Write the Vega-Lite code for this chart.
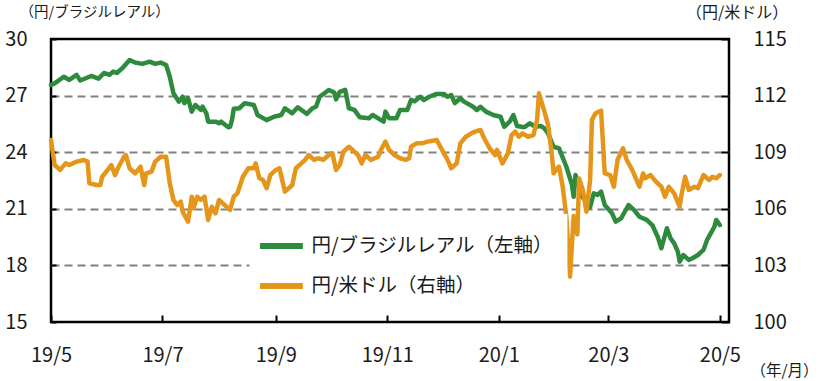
{
  "$schema": "https://vega.github.io/schema/vega-lite/v6.json",
  "width": 678,
  "height": 283,
  "autosize": {"type": "none"},
  "padding": {"left": 51, "top": 39, "right": 90, "bottom": 59},
  "background": "white",
  "config": {
    "font": "Noto Sans CJK JP",
    "view": {"stroke": "black", "strokeWidth": 2.5},
    "axis": {"labelFont": "Noto Sans CJK JP", "titleFont": "Noto Sans CJK JP", "labelColor": "#1a1a1a", "titleColor": "#1a1a1a", "titleFontWeight": "normal"}
  },
  "datasets": {
    "brl": [
      {"d": "2019-05-01", "v": 27.56}, {"d": "2019-05-03", "v": 27.65}, {"d": "2019-05-08", "v": 28.0}, {"d": "2019-05-11", "v": 27.83},
      {"d": "2019-05-15", "v": 28.1}, {"d": "2019-05-17", "v": 27.8}, {"d": "2019-05-23", "v": 28.04}, {"d": "2019-05-27", "v": 27.9},
      {"d": "2019-05-30", "v": 28.2}, {"d": "2019-06-02", "v": 28.1}, {"d": "2019-06-04", "v": 28.27}, {"d": "2019-06-06", "v": 28.2},
      {"d": "2019-06-09", "v": 28.45}, {"d": "2019-06-13", "v": 28.89}, {"d": "2019-06-16", "v": 28.75}, {"d": "2019-06-20", "v": 28.68},
      {"d": "2019-06-24", "v": 28.8}, {"d": "2019-06-27", "v": 28.68}, {"d": "2019-06-30", "v": 28.75}, {"d": "2019-07-03", "v": 28.62},
      {"d": "2019-07-05", "v": 28.0}, {"d": "2019-07-07", "v": 27.12}, {"d": "2019-07-10", "v": 26.68}, {"d": "2019-07-12", "v": 26.94},
      {"d": "2019-07-13", "v": 26.6}, {"d": "2019-07-15", "v": 26.86}, {"d": "2019-07-17", "v": 26.15}, {"d": "2019-07-19", "v": 26.5},
      {"d": "2019-07-22", "v": 26.24}, {"d": "2019-07-23", "v": 26.41}, {"d": "2019-07-25", "v": 26.06}, {"d": "2019-07-26", "v": 25.62},
      {"d": "2019-07-30", "v": 25.62}, {"d": "2019-08-01", "v": 25.53}, {"d": "2019-08-02", "v": 25.62}, {"d": "2019-08-06", "v": 25.32},
      {"d": "2019-08-07", "v": 25.35}, {"d": "2019-08-08", "v": 25.7}, {"d": "2019-08-09", "v": 26.3}, {"d": "2019-08-12", "v": 26.33},
      {"d": "2019-08-15", "v": 26.6}, {"d": "2019-08-20", "v": 26.5}, {"d": "2019-08-22", "v": 25.97}, {"d": "2019-08-27", "v": 25.7},
      {"d": "2019-08-31", "v": 25.88}, {"d": "2019-09-04", "v": 25.97}, {"d": "2019-09-06", "v": 26.33}, {"d": "2019-09-10", "v": 26.06},
      {"d": "2019-09-13", "v": 26.38}, {"d": "2019-09-18", "v": 26.03}, {"d": "2019-09-21", "v": 26.33}, {"d": "2019-09-23", "v": 26.41},
      {"d": "2019-09-25", "v": 26.94}, {"d": "2019-09-30", "v": 27.3}, {"d": "2019-10-03", "v": 27.16}, {"d": "2019-10-04", "v": 26.8},
      {"d": "2019-10-06", "v": 27.2}, {"d": "2019-10-09", "v": 27.3}, {"d": "2019-10-11", "v": 26.33}, {"d": "2019-10-14", "v": 26.24},
      {"d": "2019-10-17", "v": 25.85}, {"d": "2019-10-22", "v": 25.8}, {"d": "2019-10-24", "v": 25.97}, {"d": "2019-10-30", "v": 25.62},
      {"d": "2019-10-31", "v": 26.15}, {"d": "2019-11-02", "v": 25.8}, {"d": "2019-11-06", "v": 25.8}, {"d": "2019-11-08", "v": 26.24},
      {"d": "2019-11-12", "v": 26.24}, {"d": "2019-11-14", "v": 26.77}, {"d": "2019-11-16", "v": 26.7}, {"d": "2019-11-19", "v": 26.94},
      {"d": "2019-11-21", "v": 26.77}, {"d": "2019-11-24", "v": 26.94}, {"d": "2019-11-28", "v": 27.09}, {"d": "2019-12-02", "v": 27.09},
      {"d": "2019-12-04", "v": 26.94}, {"d": "2019-12-06", "v": 27.03}, {"d": "2019-12-08", "v": 26.6}, {"d": "2019-12-11", "v": 26.86},
      {"d": "2019-12-13", "v": 26.68}, {"d": "2019-12-18", "v": 26.41}, {"d": "2019-12-20", "v": 26.24}, {"d": "2019-12-22", "v": 26.41},
      {"d": "2019-12-25", "v": 26.15}, {"d": "2019-12-29", "v": 25.97}, {"d": "2020-01-02", "v": 25.88}, {"d": "2020-01-04", "v": 25.35},
      {"d": "2020-01-07", "v": 25.62}, {"d": "2020-01-09", "v": 25.97}, {"d": "2020-01-11", "v": 25.39}, {"d": "2020-01-15", "v": 25.32},
      {"d": "2020-01-18", "v": 25.53}, {"d": "2020-01-21", "v": 25.35}, {"d": "2020-01-24", "v": 25.39}, {"d": "2020-01-26", "v": 25.26},
      {"d": "2020-01-28", "v": 25.0}, {"d": "2020-01-31", "v": 24.29}, {"d": "2020-02-03", "v": 24.2}, {"d": "2020-02-07", "v": 23.23},
      {"d": "2020-02-10", "v": 22.3}, {"d": "2020-02-11", "v": 21.64}, {"d": "2020-02-12", "v": 22.79}, {"d": "2020-02-14", "v": 22.17},
      {"d": "2020-02-16", "v": 21.6}, {"d": "2020-02-20", "v": 21.1}, {"d": "2020-02-22", "v": 21.82}, {"d": "2020-02-24", "v": 21.73},
      {"d": "2020-02-26", "v": 21.91}, {"d": "2020-02-28", "v": 21.2}, {"d": "2020-03-03", "v": 20.76}, {"d": "2020-03-05", "v": 20.32},
      {"d": "2020-03-08", "v": 20.5}, {"d": "2020-03-12", "v": 21.2}, {"d": "2020-03-15", "v": 20.94}, {"d": "2020-03-18", "v": 20.58},
      {"d": "2020-03-22", "v": 20.41}, {"d": "2020-03-25", "v": 20.14}, {"d": "2020-03-28", "v": 19.52}, {"d": "2020-03-30", "v": 18.91},
      {"d": "2020-04-02", "v": 19.97}, {"d": "2020-04-04", "v": 19.44}, {"d": "2020-04-06", "v": 19.17}, {"d": "2020-04-08", "v": 18.73},
      {"d": "2020-04-09", "v": 18.2}, {"d": "2020-04-11", "v": 18.55}, {"d": "2020-04-14", "v": 18.29}, {"d": "2020-04-16", "v": 18.38},
      {"d": "2020-04-19", "v": 18.55}, {"d": "2020-04-22", "v": 18.82}, {"d": "2020-04-24", "v": 19.35}, {"d": "2020-04-26", "v": 19.7},
      {"d": "2020-04-28", "v": 20.05}, {"d": "2020-04-29", "v": 20.41}, {"d": "2020-05-01", "v": 20.14}
    ],
    "usd": [
      {"d": "2019-05-01", "v": 109.65}, {"d": "2019-05-03", "v": 108.32}, {"d": "2019-05-06", "v": 108.06}, {"d": "2019-05-09", "v": 108.41},
      {"d": "2019-05-11", "v": 108.32}, {"d": "2019-05-15", "v": 108.5}, {"d": "2019-05-19", "v": 108.59}, {"d": "2019-05-21", "v": 108.5},
      {"d": "2019-05-22", "v": 107.35}, {"d": "2019-05-26", "v": 107.26}, {"d": "2019-05-28", "v": 107.26}, {"d": "2019-05-29", "v": 107.7},
      {"d": "2019-06-01", "v": 108.06}, {"d": "2019-06-03", "v": 108.32}, {"d": "2019-06-05", "v": 107.79}, {"d": "2019-06-07", "v": 108.23},
      {"d": "2019-06-10", "v": 108.76}, {"d": "2019-06-11", "v": 108.85}, {"d": "2019-06-13", "v": 108.15}, {"d": "2019-06-16", "v": 107.88},
      {"d": "2019-06-19", "v": 108.23}, {"d": "2019-06-21", "v": 107.26}, {"d": "2019-06-22", "v": 107.88}, {"d": "2019-06-25", "v": 107.97},
      {"d": "2019-06-27", "v": 108.5}, {"d": "2019-06-30", "v": 108.76}, {"d": "2019-07-03", "v": 108.76}, {"d": "2019-07-05", "v": 107.35},
      {"d": "2019-07-07", "v": 106.47}, {"d": "2019-07-09", "v": 106.2}, {"d": "2019-07-11", "v": 106.38}, {"d": "2019-07-12", "v": 105.85},
      {"d": "2019-07-15", "v": 105.32}, {"d": "2019-07-17", "v": 106.64}, {"d": "2019-07-18", "v": 106.03}, {"d": "2019-07-20", "v": 106.64},
      {"d": "2019-07-22", "v": 106.47}, {"d": "2019-07-24", "v": 106.64}, {"d": "2019-07-26", "v": 105.41}, {"d": "2019-07-28", "v": 106.11},
      {"d": "2019-07-30", "v": 105.76}, {"d": "2019-08-01", "v": 106.47}, {"d": "2019-08-03", "v": 106.29}, {"d": "2019-08-06", "v": 106.03},
      {"d": "2019-08-07", "v": 105.94}, {"d": "2019-08-09", "v": 106.64}, {"d": "2019-08-11", "v": 106.82}, {"d": "2019-08-14", "v": 107.7},
      {"d": "2019-08-17", "v": 108.15}, {"d": "2019-08-20", "v": 108.15}, {"d": "2019-08-21", "v": 108.41}, {"d": "2019-08-23", "v": 107.62},
      {"d": "2019-08-25", "v": 107.53}, {"d": "2019-08-27", "v": 107.09}, {"d": "2019-08-29", "v": 107.79}, {"d": "2019-09-01", "v": 108.06},
      {"d": "2019-09-03", "v": 108.15}, {"d": "2019-09-06", "v": 106.91}, {"d": "2019-09-09", "v": 107.17}, {"d": "2019-09-10", "v": 107.26},
      {"d": "2019-09-12", "v": 108.15}, {"d": "2019-09-14", "v": 108.32}, {"d": "2019-09-17", "v": 108.59}, {"d": "2019-09-19", "v": 108.85},
      {"d": "2019-09-22", "v": 108.59}, {"d": "2019-09-24", "v": 108.68}, {"d": "2019-09-27", "v": 108.59}, {"d": "2019-09-30", "v": 108.85},
      {"d": "2019-10-02", "v": 108.94}, {"d": "2019-10-04", "v": 108.06}, {"d": "2019-10-06", "v": 108.32}, {"d": "2019-10-08", "v": 109.03},
      {"d": "2019-10-11", "v": 109.29}, {"d": "2019-10-13", "v": 109.12}, {"d": "2019-10-16", "v": 108.85}, {"d": "2019-10-18", "v": 108.41},
      {"d": "2019-10-20", "v": 108.85}, {"d": "2019-10-23", "v": 108.59}, {"d": "2019-10-27", "v": 108.76}, {"d": "2019-10-29", "v": 109.21},
      {"d": "2019-10-31", "v": 109.56}, {"d": "2019-11-02", "v": 109.12}, {"d": "2019-11-05", "v": 108.85}, {"d": "2019-11-08", "v": 108.68},
      {"d": "2019-11-11", "v": 108.59}, {"d": "2019-11-13", "v": 108.68}, {"d": "2019-11-14", "v": 109.29}, {"d": "2019-11-17", "v": 109.47},
      {"d": "2019-11-20", "v": 109.47}, {"d": "2019-11-23", "v": 109.56}, {"d": "2019-11-28", "v": 109.65}, {"d": "2019-12-01", "v": 109.12},
      {"d": "2019-12-04", "v": 108.59}, {"d": "2019-12-06", "v": 108.15}, {"d": "2019-12-09", "v": 108.41}, {"d": "2019-12-11", "v": 109.47},
      {"d": "2019-12-14", "v": 109.82}, {"d": "2019-12-17", "v": 110.0}, {"d": "2019-12-19", "v": 110.09}, {"d": "2019-12-22", "v": 110.18},
      {"d": "2019-12-24", "v": 109.74}, {"d": "2019-12-27", "v": 109.21}, {"d": "2019-12-30", "v": 108.85}, {"d": "2019-12-31", "v": 109.12},
      {"d": "2020-01-03", "v": 108.41}, {"d": "2020-01-06", "v": 108.94}, {"d": "2020-01-08", "v": 109.91}, {"d": "2020-01-10", "v": 110.09},
      {"d": "2020-01-12", "v": 109.82}, {"d": "2020-01-14", "v": 110.0}, {"d": "2020-01-17", "v": 109.82}, {"d": "2020-01-20", "v": 109.91},
      {"d": "2020-01-22", "v": 110.71}, {"d": "2020-01-23", "v": 112.12}, {"d": "2020-01-26", "v": 111.15}, {"d": "2020-01-28", "v": 110.45},
      {"d": "2020-01-30", "v": 108.94}, {"d": "2020-01-31", "v": 107.88}, {"d": "2020-02-02", "v": 108.15}, {"d": "2020-02-03", "v": 108.23},
      {"d": "2020-02-05", "v": 107.17}, {"d": "2020-02-07", "v": 105.58}, {"d": "2020-02-09", "v": 102.4}, {"d": "2020-02-11", "v": 105.62},
      {"d": "2020-02-13", "v": 104.65}, {"d": "2020-02-14", "v": 107.6}, {"d": "2020-02-16", "v": 107.0}, {"d": "2020-02-18", "v": 105.85},
      {"d": "2020-02-20", "v": 107.53}, {"d": "2020-02-21", "v": 110.71}, {"d": "2020-02-23", "v": 111.06}, {"d": "2020-02-26", "v": 111.2},
      {"d": "2020-02-28", "v": 107.88}, {"d": "2020-03-02", "v": 107.79}, {"d": "2020-03-04", "v": 107.17}, {"d": "2020-03-06", "v": 108.59},
      {"d": "2020-03-09", "v": 109.21}, {"d": "2020-03-11", "v": 108.59}, {"d": "2020-03-14", "v": 108.06}, {"d": "2020-03-18", "v": 107.17},
      {"d": "2020-03-20", "v": 107.88}, {"d": "2020-03-21", "v": 107.62}, {"d": "2020-03-24", "v": 107.79}, {"d": "2020-03-27", "v": 107.44},
      {"d": "2020-03-30", "v": 107.17}, {"d": "2020-04-01", "v": 106.64}, {"d": "2020-04-03", "v": 107.17}, {"d": "2020-04-06", "v": 106.82},
      {"d": "2020-04-09", "v": 106.11}, {"d": "2020-04-10", "v": 106.73}, {"d": "2020-04-12", "v": 107.7}, {"d": "2020-04-14", "v": 107.0},
      {"d": "2020-04-17", "v": 107.17}, {"d": "2020-04-19", "v": 107.09}, {"d": "2020-04-22", "v": 107.79}, {"d": "2020-04-25", "v": 107.53},
      {"d": "2020-04-27", "v": 107.7}, {"d": "2020-04-29", "v": 107.62}, {"d": "2020-05-01", "v": 107.79}
    ]
  },
  "layer": [
    {
      "data": {"name": "brl"},
      "mark": {"type": "line", "strokeWidth": 4.5, "strokeCap": "round", "strokeJoin": "round"},
      "encoding": {
        "x": {
          "field": "d", "type": "temporal",
          "scale": {"type": "utc", "domain": [{"year": 2019, "month": 5, "date": 1, "utc": true}, {"year": 2020, "month": 5, "date": 6, "utc": true}]},
          "axis": {
            "values": [
              {"year": 2019, "month": 5, "date": 1, "utc": true}, {"year": 2019, "month": 7, "date": 1, "utc": true},
              {"year": 2019, "month": 9, "date": 1, "utc": true}, {"year": 2019, "month": 11, "date": 1, "utc": true},
              {"year": 2020, "month": 1, "date": 1, "utc": true}, {"year": 2020, "month": 3, "date": 1, "utc": true},
              {"year": 2020, "month": 5, "date": 1, "utc": true}
            ],
            "format": "%y/%-m",
            "labelFontSize": 20, "labelPadding": 30, "labelFlush": false, "labelOverlap": false,
            "domain": false, "grid": false,
            "tickColor": "black", "tickWidth": 2, "tickSize": -7,
            "title": "（年/月）", "titleFontSize": 15.5, "titleAngle": 0, "titleAlign": "left", "titleBaseline": "middle",
            "titleX": 699, "titleY": 48
          }
        },
        "y": {
          "field": "v", "type": "quantitative",
          "scale": {"domain": [15, 30], "nice": false, "zero": false},
          "axis": {
            "values": [15, 18, 21, 24, 27, 30],
            "labelFontSize": 20, "labelPadding": 29,
            "domain": false,
            "tickColor": "black", "tickWidth": 2, "tickSize": -5,
            "grid": true, "gridColor": "#808080", "gridWidth": 2, "gridDash": [8, 5],
            "gridOpacity": {"condition": {"test": "datum.value == 15 || datum.value == 30", "value": 0}, "value": 1},
            "title": "（円/ブラジルレアル）", "titleFontSize": 14.5, "titleAngle": 0, "titleAlign": "left", "titleBaseline": "middle",
            "titleX": -32, "titleY": -27
          }
        },
        "color": {
          "datum": "円/ブラジルレアル（左軸）",
          "scale": {"domain": ["円/ブラジルレアル（左軸）", "円/米ドル（右軸）"], "range": ["#2e8b3e", "#e5961a"]},
          "legend": {
            "title": null, "orient": "none", "legendX": 198.4, "legendY": 175,
            "padding": 14, "fillColor": "white", "strokeColor": null,
            "symbolType": "M-1.43,0H1.43", "symbolSize": 900, "symbolStrokeWidth": 6, "symbolFillColor": null,
            "labelFontSize": 19.5, "labelFont": "Noto Sans CJK JP", "labelColor": "#1a1a1a", "labelOffset": 12,
            "rowPadding": 10, "labelLimit": 400
          }
        }
      }
    },
    {
      "data": {"name": "usd"},
      "mark": {"type": "line", "strokeWidth": 4.5, "strokeCap": "round", "strokeJoin": "round"},
      "encoding": {
        "x": {"field": "d", "type": "temporal"},
        "y": {
          "field": "v", "type": "quantitative",
          "scale": {"domain": [100, 115], "nice": false, "zero": false},
          "axis": {
            "orient": "right",
            "values": [100, 103, 106, 109, 112, 115],
            "labelFontSize": 20, "labelPadding": 32,
            "domain": false, "grid": false,
            "tickColor": "black", "tickWidth": 2, "tickSize": -8,
            "title": "（円/米ドル）", "titleFontSize": 16, "titleAngle": 0, "titleAlign": "left", "titleBaseline": "middle",
            "titleX": -43.5, "titleY": -27
          }
        },
        "color": {"datum": "円/米ドル（右軸）"}
      }
    }
  ],
  "resolve": {"scale": {"y": "independent"}}
}
